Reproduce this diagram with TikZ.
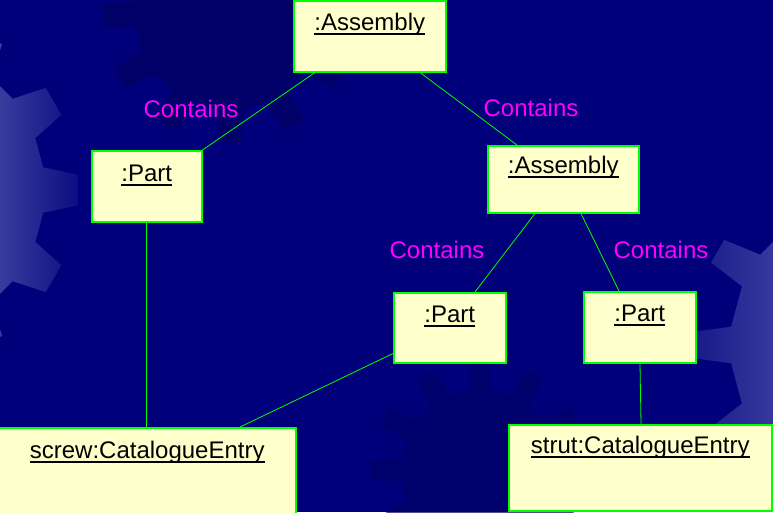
\documentclass[tikz,border=0pt]{standalone}
\usepackage{fontspec}
\setmainfont{Liberation Sans}
\usetikzlibrary{calc}
\definecolor{slide}{RGB}{0,0,122}
\definecolor{boxfill}{RGB}{255,255,204}
\definecolor{boxline}{RGB}{0,255,0}
\definecolor{rolemag}{RGB}{255,0,255}
\definecolor{gearlight}{RGB}{56,60,158}
\definecolor{geardark}{RGB}{0,0,104}
\tikzset{
  object/.style={draw=boxline, fill=boxfill, line width=1.5pt, anchor=north west, inner sep=0pt},
  objname/.style={font=\fontsize{24}{28}\selectfont, anchor=base, inner sep=0pt},
  nameline/.style={line width=2pt},
  link/.style={draw=boxline, line width=0.8pt},
  role/.style={text=rolemag, font=\fontsize{24}{28}\selectfont, inner sep=0pt}
}

\begin{document}
\begin{tikzpicture}[x=1pt,y=-1pt]
  \useasboundingbox (0,0) rectangle (773,512);
  \clip (0,0) rectangle (773,512);
  \fill[slide] (0,0) rectangle (773,512);

  % background gears
  \begin{scope}[shift={(230,15)}]
    \fill[geardark] (-9:95) \foreach \a in {0,30,...,330} {-- ({\a-8}:95) -- ({\a-5}:128) -- ({\a+5}:128) -- ({\a+8}:95)} -- cycle;
  \end{scope}
  \begin{scope}[shift={(480,470)}]
    \fill[geardark, opacity=0.7] (-9:80) \foreach \a in {0,30,...,330} {-- ({\a-8}:80) -- ({\a-5}:110) -- ({\a+5}:110) -- ({\a+8}:80)} -- cycle;
  \end{scope}
  \begin{scope}[shift={(-100,190)}]
    \clip (-9:145) \foreach \a in {0,30,...,330} {-- ({\a-9}:145) -- ({\a-5}:178) -- ({\a+5}:178) -- ({\a+9}:145)} -- cycle;
    \shade[left color=gearlight, right color=slide] (100,-200) rectangle (200,200);
  \end{scope}
  \begin{scope}[shift={(880,345)}]
    \clip (-7:150) \foreach \a in {0,30,...,330} {-- ({\a-7}:150) -- ({\a-4}:188) -- ({\a+4}:188) -- ({\a+7}:150)} -- cycle;
    \shade[left color=slide, right color=gearlight] (-250,-200) rectangle (-100,200);
  \end{scope}

  % objects
  \node[object, minimum width=152pt, minimum height=71pt] (asm1) at (293,0) {};
  \node[object, minimum width=110pt, minimum height=71pt] (part1) at (91,150) {};
  \node[object, minimum width=151pt, minimum height=67pt] (asm2) at (487,145) {};
  \node[object, minimum width=112pt, minimum height=70pt] (part2) at (393,292) {};
  \node[object, minimum width=112pt, minimum height=71pt] (part3) at (583,291) {};
  \node[object, minimum width=297pt, minimum height=100pt] (screw) at (-2,427) {};
  \node[object, minimum width=263pt, minimum height=86pt] (strut) at (508,424) {};

  \node[objname] (asm1name) at ([yshift=-30pt]asm1.north) {:Assembly};
  \node[objname] (part1name) at ([yshift=-31pt]part1.north) {:Part};
  \node[objname] (asm2name) at ([yshift=-28pt]asm2.north) {:Assembly};
  \node[objname] (part2name) at ([yshift=-30pt]part2.north) {:Part};
  \node[objname] (part3name) at ([yshift=-30pt]part3.north) {:Part};
  \node[objname] (screwname) at ([yshift=-31pt]screw.north) {screw:CatalogueEntry};
  \node[objname] (strutname) at ([yshift=-29pt]strut.north) {strut:CatalogueEntry};
  \foreach \n in {asm1name,part1name,asm2name,part2name,part3name,screwname,strutname}
    \draw[nameline] ([yshift=-4pt]\n.base west) -- ([yshift=-4pt]\n.base east);

  % links
  \draw[link] ([xshift=22pt]asm1.south west) -- (part1.north east);
  \draw[link] ([xshift=127pt]asm1.south west) -- ([xshift=30pt]asm2.north west);
  \draw[link] ([xshift=48pt]asm2.south west) -- ([xshift=82pt]part2.north west);
  \draw[link] ([xshift=94pt]asm2.south west) -- ([xshift=36pt]part3.north west);
  \draw[link] (part1.south) -- (part1.south |- screw.north);
  \draw[link] ([yshift=10pt]part2.south west) -- ([xshift=242pt]screw.north west);
  \draw[link] ([xshift=57pt]part3.south west) -- ([xshift=133pt]strut.north west);

  \node[role] (role1) at (191,109) {Contains};
  \node[role] (role2) at (531,108) {Contains};
  \node[role] (role3) at (437,250) {Contains};
  \node[role] (role4) at (661,250) {Contains};
\end{tikzpicture}
\end{document}
